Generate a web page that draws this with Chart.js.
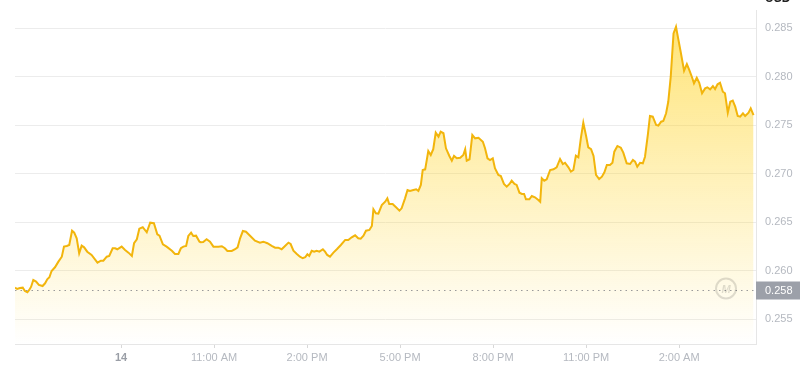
<!DOCTYPE html>
<html>
<head>
<meta charset="utf-8">
<script src="https://cdn.jsdelivr.net/npm/chart.js@4/dist/chart.umd.min.js"></script>
<style>
  body { margin: 0; background: #fff; }
</style>
</head>
<body>
<canvas id="price_chart" width="800" height="370"></canvas>
<script>
// hours since midnight of the 14th (26 = 2:00 AM next day)
const times = [
    4.58, 4.65, 4.74, 4.83, 4.90, 4.98, 5.04, 5.10, 5.17, 5.26,
    5.35, 5.47, 5.55, 5.62, 5.69, 5.76, 5.87, 5.98, 6.09, 6.16,
    6.25, 6.33, 6.42, 6.49, 6.57, 6.65, 6.73, 6.81, 6.91, 7.05,
    7.24, 7.35, 7.43, 7.54, 7.62, 7.73, 7.81, 7.88, 8.02, 8.13,
    8.24, 8.35, 8.42, 8.51, 8.59, 8.70, 8.83, 8.94, 9.06, 9.17,
    9.24, 9.35, 9.47, 9.64, 9.74, 9.85, 9.93, 10.01, 10.10, 10.17,
    10.26, 10.33, 10.42, 10.53, 10.57, 10.65, 10.76, 10.87, 10.98, 11.14,
    11.25, 11.35, 11.43, 11.57, 11.68, 11.76, 11.84, 11.93, 12.03, 12.16,
    12.32, 12.48, 12.59, 12.72, 12.86, 12.97, 13.07, 13.18, 13.29, 13.40,
    13.47, 13.56, 13.67, 13.77, 13.86, 13.94, 14.01, 14.07, 14.15, 14.23,
    14.31, 14.40, 14.51, 14.58, 14.65, 14.74, 14.85, 14.96, 15.09, 15.23,
    15.33, 15.44, 15.55, 15.65, 15.73, 15.82, 15.90, 16.01, 16.09, 16.14,
    16.22, 16.30, 16.41, 16.52, 16.59, 16.65, 16.76, 16.87, 16.98, 17.05,
    17.16, 17.24, 17.32, 17.43, 17.52, 17.59, 17.67, 17.73, 17.81, 17.91,
    17.99, 18.07, 18.15, 18.24, 18.31, 18.40, 18.48, 18.59, 18.67, 18.74,
    18.83, 18.94, 19.04, 19.10, 19.15, 19.24, 19.33, 19.42, 19.53, 19.67,
    19.74, 19.82, 19.90, 19.99, 20.06, 20.17, 20.25, 20.35, 20.44, 20.53,
    20.60, 20.69, 20.76, 20.85, 20.93, 21.00, 21.06, 21.17, 21.25, 21.35,
    21.46, 21.52, 21.57, 21.65, 21.73, 21.84, 21.95, 22.05, 22.16, 22.25,
    22.32, 22.43, 22.51, 22.59, 22.67, 22.75, 22.83, 22.91, 23.00, 23.07,
    23.16, 23.24, 23.32, 23.42, 23.51, 23.59, 23.67, 23.77, 23.85, 23.91,
    24.01, 24.12, 24.20, 24.31, 24.42, 24.51, 24.58, 24.65, 24.74, 24.83,
    24.90, 24.99, 25.06, 25.15, 25.26, 25.33, 25.42, 25.49, 25.58, 25.65,
    25.73, 25.82, 25.90, 25.98, 26.05, 26.16, 26.25, 26.33, 26.41, 26.48,
    26.57, 26.65, 26.74, 26.84, 26.91, 27.00, 27.09, 27.16, 27.24, 27.32,
    27.41, 27.48, 27.57, 27.65, 27.73, 27.81, 27.89, 27.97, 28.06, 28.13,
    28.24, 28.31, 28.40,
];

const prices = [
    0.25826, 0.25812, 0.25823, 0.25826, 0.25792, 0.25778, 0.25802, 0.25836, 0.25905, 0.25888,
    0.25854, 0.25843, 0.25871, 0.25912, 0.25933, 0.25998, 0.26036, 0.26094, 0.26145, 0.26249,
    0.26256, 0.26266, 0.26413, 0.26393, 0.26335, 0.26180, 0.26259, 0.26242, 0.26197, 0.26163,
    0.26084, 0.26104, 0.26104, 0.26145, 0.26153, 0.26232, 0.26232, 0.26222, 0.26249, 0.26214,
    0.26187, 0.26153, 0.26284, 0.26325, 0.26434, 0.26449, 0.26397, 0.26496, 0.26490, 0.26376,
    0.26362, 0.26273, 0.26249, 0.26207, 0.26173, 0.26173, 0.26232, 0.26249, 0.26256, 0.26359,
    0.26393, 0.26359, 0.26362, 0.26300, 0.26294, 0.26297, 0.26325, 0.26300, 0.26249, 0.26249,
    0.26253, 0.26232, 0.26204, 0.26204, 0.26222, 0.26242, 0.26335, 0.26410, 0.26403, 0.26362,
    0.26310, 0.26290, 0.26300, 0.26284, 0.26256, 0.26238, 0.26238, 0.26222, 0.26256, 0.26290,
    0.26276, 0.26207, 0.26173, 0.26145, 0.26129, 0.26139, 0.26170, 0.26153, 0.26207, 0.26197,
    0.26207, 0.26197, 0.26222, 0.26197, 0.26163, 0.26145, 0.26187, 0.26222, 0.26266, 0.26318,
    0.26318, 0.26345, 0.26366, 0.26335, 0.26331, 0.26362, 0.26413, 0.26421, 0.26462, 0.26634,
    0.26593, 0.26589, 0.26678, 0.26712, 0.26747, 0.26689, 0.26689, 0.26655, 0.26620, 0.26644,
    0.26747, 0.26833, 0.26823, 0.26833, 0.26840, 0.26823, 0.26885, 0.27039, 0.27046, 0.27235,
    0.27194, 0.27253, 0.27424, 0.27383, 0.27434, 0.27418, 0.27263, 0.27184, 0.27135, 0.27184,
    0.27160, 0.27166, 0.27194, 0.27253, 0.27135, 0.27150, 0.27400, 0.27366, 0.27372, 0.27331,
    0.27263, 0.27160, 0.27142, 0.27160, 0.27057, 0.26988, 0.26977, 0.26895, 0.26867, 0.26895,
    0.26929, 0.26895, 0.26885, 0.26805, 0.26792, 0.26792, 0.26737, 0.26737, 0.26771, 0.26758,
    0.26730, 0.26712, 0.26954, 0.26929, 0.26943, 0.27039, 0.27046, 0.27067, 0.27153, 0.27101,
    0.27114, 0.27067, 0.27022, 0.27039, 0.27187, 0.27170, 0.27366, 0.27527, 0.27390, 0.27273,
    0.27253, 0.27184, 0.26988, 0.26946, 0.26970, 0.27015, 0.27091, 0.27091, 0.27114, 0.27228,
    0.27287, 0.27269, 0.27218, 0.27108, 0.27101, 0.27142, 0.27125, 0.27073, 0.27114, 0.27108,
    0.27176, 0.27400, 0.27596, 0.27589, 0.27503, 0.27496, 0.27537, 0.27544, 0.27624, 0.27743,
    0.28001, 0.28448, 0.28516, 0.28379, 0.28259, 0.28063, 0.28132, 0.28070, 0.28001, 0.27933,
    0.27991, 0.27939, 0.27830, 0.27881, 0.27892, 0.27871, 0.27905, 0.27874, 0.27923, 0.27939,
    0.27846, 0.27830, 0.27630, 0.27743, 0.27754, 0.27692, 0.27596, 0.27589, 0.27624, 0.27596,
    0.27630, 0.27675, 0.27606,
];

const xTickValues = [8, 11, 14, 17, 20, 23, 26];
const xTickLabels = ['14', '11:00 AM', '2:00 PM', '5:00 PM', '8:00 PM', '11:00 PM', '2:00 AM'];
const yTickValues = [0.255, 0.260, 0.265, 0.270, 0.275, 0.280, 0.285];
const openPrice = 0.258;

const ctx = document.getElementById('price_chart').getContext('2d');

const price_marker = {
    id: 'price_marker',
    afterDraw(chart) {
        const { ctx, chartArea } = chart;
        const yScale = chart.scales.y;
        const y = Math.round(yScale.getPixelForValue(openPrice)) + 0.5;
        ctx.save();

        // dotted open price line
        ctx.strokeStyle = '#9a9a9a';
        ctx.lineWidth = 1;
        ctx.setLineDash([1.5, 4]);
        ctx.beginPath();
        ctx.moveTo(chartArea.left, y);
        ctx.lineTo(chartArea.right, y);
        ctx.stroke();
        ctx.setLineDash([]);

        // label on the axis
        ctx.fillStyle = '#9ca0a9';
        ctx.fillRect(chartArea.right, y - 9, chart.width - chartArea.right, 18);
        ctx.fillStyle = '#fff';
        ctx.font = '11px "Liberation Sans", Arial, sans-serif';
        ctx.textBaseline = 'middle';
        ctx.textAlign = 'left';
        ctx.fillText(openPrice.toFixed(3), chartArea.right + 9, y + 0.5);

        // watermark
        const cx = chartArea.right - 30;
        const cy = y - 2;
        ctx.strokeStyle = 'rgba(0,0,0,0.13)';
        ctx.lineWidth = 2;
        ctx.beginPath();
        ctx.arc(cx, cy, 10, 0, Math.PI * 2);
        ctx.stroke();
        ctx.fillStyle = 'rgba(0,0,0,0.13)';
        ctx.font = 'italic bold 11px "Liberation Sans", Arial, sans-serif';
        ctx.textAlign = 'center';
        ctx.fillText('M', cx, cy + 1);

        // currency label cut off at the top
        ctx.fillStyle = '#222';
        ctx.font = 'bold 12px "Liberation Sans", Arial, sans-serif';
        ctx.textAlign = 'left';
        ctx.textBaseline = 'alphabetic';
        ctx.fillText('USD', chartArea.right + 9, 2);
        ctx.restore();
    },
};

const price_chart = new Chart(ctx, {
    type: 'line',
    data: {
        datasets: [{
            data: times.map((t, i) => ({ x: t, y: prices[i] })),
            borderColor: '#f2b50c',
            borderWidth: 2,
            pointRadius: 0,
            tension: 0,
            fill: 'start',
            backgroundColor(context) {
                const area = context.chart.chartArea;
                if (!area) return 'rgba(255,210,30,0.3)';
                const g = context.chart.ctx.createLinearGradient(0, area.top, 0, area.bottom);
                g.addColorStop(0, 'rgba(255,210,30,0.62)');
                g.addColorStop(1, 'rgba(255,210,30,0)');
                return g;
            },
        }],
    },
    options: {
        responsive: false,
        animation: false,
        layout: { padding: { left: 15, top: 10, right: 0, bottom: 0 } },
        plugins: {
            legend: { display: false },
            tooltip: { enabled: false },
        },
        scales: {
            x: {
                type: 'linear',
                min: 4.58,
                max: 28.48,
                afterBuildTicks(scale) {
                    scale.ticks = xTickValues.map(v => ({ value: v }));
                },
                afterFit(scale) {
                    scale.height = 26;
                    scale.paddingLeft = 0;
                    scale.paddingRight = 0;
                },
                ticks: {
                    autoSkip: false,
                    maxRotation: 0,
                    padding: 3,
                    font(c) {
                        return {
                            family: '"Liberation Sans", Arial, sans-serif',
                            size: 11,
                            weight: c.tick && c.tick.value === 8 ? 'bold' : 'normal',
                        };
                    },
                    color(c) {
                        return c.tick && c.tick.value === 8 ? '#9a9ea6' : '#b5b9c0';
                    },
                    callback(value) {
                        return xTickLabels[xTickValues.indexOf(value)];
                    },
                },
                grid: {
                    drawOnChartArea: false,
                    tickLength: 4,
                    color: '#d8d8d8',
                },
                border: { color: '#e6e6e6' },
            },
            y: {
                position: 'right',
                min: 0.25245,
                max: 0.28689,
                afterBuildTicks(scale) {
                    scale.ticks = yTickValues.map(v => ({ value: v }));
                },
                afterFit(scale) {
                    scale.width = 44;
                    scale.paddingTop = 0;
                    scale.paddingBottom = 0;
                },
                ticks: {
                    padding: 9,
                    font: { family: '"Liberation Sans", Arial, sans-serif', size: 11 },
                    color: '#b5b9c0',
                    callback(value) {
                        return value.toFixed(3);
                    },
                },
                grid: {
                    drawTicks: false,
                    color: '#ececec',
                },
                border: { color: '#e6e6e6' },
            },
        },
    },
    plugins: [price_marker],
});
</script>
</body>
</html>
